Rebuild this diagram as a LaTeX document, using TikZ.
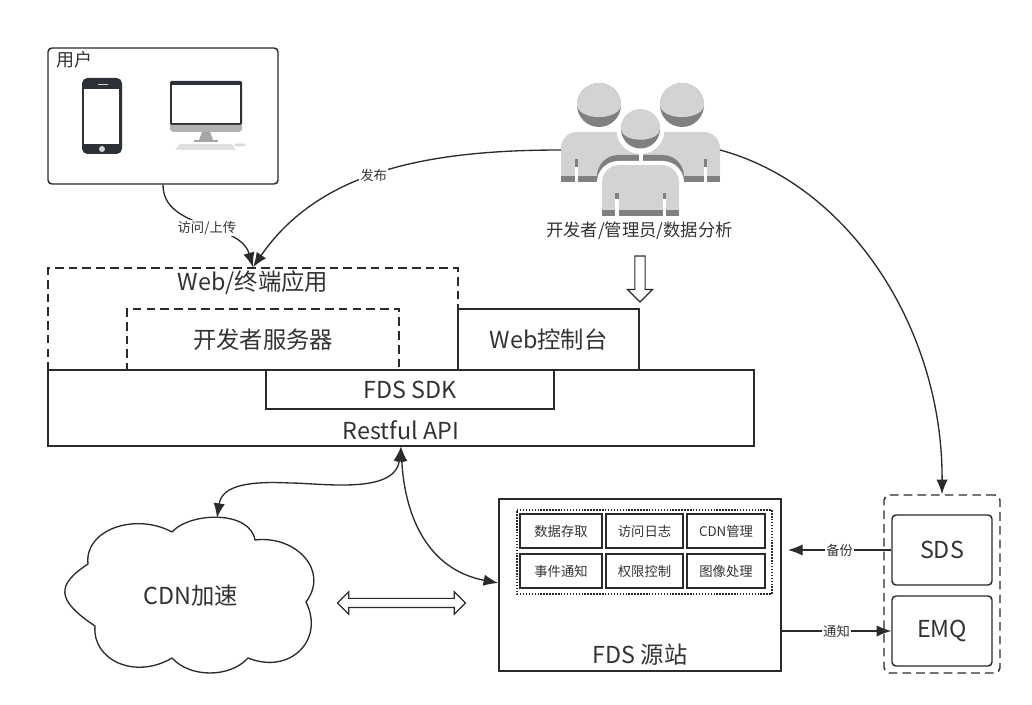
\documentclass[tikz,border=0pt]{standalone}
\usepackage{fontspec}
\setmainfont{Noto Sans CJK SC}
\usetikzlibrary{arrows.meta,shapes.arrows}
\definecolor{ink}{HTML}{2B2B2B}
\definecolor{txt}{HTML}{333333}
\definecolor{screen}{HTML}{2E3038}
\definecolor{pale}{HTML}{D2D4D3}
\definecolor{dimgrey}{HTML}{808080}
\newcommand{\bigfont}{\fontsize{17.5}{21}\selectfont}
\newcommand{\midfont}{\fontsize{13}{16}\selectfont}
\tikzset{
    box/.style 2 args={draw=ink, line width=1.1pt, fill=white, inner sep=0pt, text=txt,
        minimum width={#1*0.75pt}, minimum height={#2*0.75pt}},
    cell/.style={box={#1}{34}, font=\fontsize{10}{12}\selectfont},
    dashline/.style={dash pattern=on 6.5pt off 3.8pt},
    big/.style={text=txt, inner sep=0pt, font=\bigfont},
    tag/.style={text=txt, fill=white, inner sep=1pt, font=\fontsize{10}{12}\selectfont},
    flow/.style={draw=ink, line width=1pt, -{Latex[length=11pt,width=8.5pt]}},
    biflow/.style={draw=ink, line width=1pt, {Latex[length=11pt,width=8.5pt]}-{Latex[length=11pt,width=8.5pt]}},
    head/.pic={
        \fill[dimgrey] (0,0) circle[radius=#1];
        \fill[pale] (-#1,0) arc[start angle=180, end angle=360, radius=#1]
            arc[start angle=0, end angle=180, x radius=#1, y radius={#1*0.55}] -- cycle;
    },
}
\begin{document}
\begin{tikzpicture}[x=0.75pt, y=-0.75pt]
    \useasboundingbox (0,0) rectangle (1032,705);

    % user box
    \node[box={230}{136}, rounded corners=3pt] (user) at (163,116) {};
    \node[text=txt, inner sep=0pt, font=\fontsize{13.5}{16}\selectfont] (userlabel) at (74,60) {用户};

    % phone
    \fill[screen, rounded corners=4pt] (82,78) rectangle (122,154);
    \fill[white] (84,89) rectangle (119,144);
    \fill[pale] (102,149) circle[radius=3];
    \fill[pale] (98,84) rectangle (108,85);

    % desktop
    \fill[screen, rounded corners=1pt] (170,81) rectangle (242,125);
    \fill[white] (172,85) rectangle (240,123);
    \fill[black!30] (170,125) -- (242,125) -- (242,130) -- (239,132) -- (173,132) -- (170,130) -- cycle;
    \fill[black!35] (202,132) -- (210,132) -- (213,140) -- (199,140) -- cycle;
    \fill[black!35] (194,140) rectangle (218,142);
    \fill[black!12] (180,144) -- (232,144) -- (236,150) -- (175,150) -- cycle;
    \fill[black!15] (240,145) circle[x radius=6, y radius=1.5];

    % people
    \begin{scope}
        \fill[pale] (561,182) [rounded corners=12pt] -- (561,132) -- (650,132) [sharp corners] -- (650,182) -- cycle;
        \fill[pale] (720,182) [rounded corners=12pt] -- (720,132) -- (631,132) [sharp corners] -- (631,182) -- cycle;
        \fill[dimgrey] (561,176) rectangle (720,182);
        \fill[dimgrey] (597,182) [rounded corners=16pt] -- (597,155) -- (684,155) [sharp corners] -- (684,182) -- cycle;
        \fill[white] (597,220) [rounded corners=16pt] -- (597,161) -- (684,161) [sharp corners] -- (684,220) -- cycle;
        \fill[white] (638.5,150) rectangle (642.5,161);
        \fill[pale] (602,216) [rounded corners=13pt] -- (602,165) -- (679,165) [sharp corners] -- (679,216) -- cycle;
        \fill[dimgrey] (602,210) rectangle (679,216);
        \fill[dimgrey] (575,159) rectangle (578,167);
        \fill[white] (575,167) rectangle (578,182);
        \fill[dimgrey] (704,159) rectangle (707,167);
        \fill[white] (704,167) rectangle (707,182);
        \fill[dimgrey] (615,193) rectangle (619,199);
        \fill[white] (615,199) rectangle (619,216);
        \fill[dimgrey] (663,193) rectangle (666,199);
        \fill[white] (663,199) rectangle (666,216);
        \pic at (599,105) {head={22}};
        \pic at (682,105) {head={22}};
        \fill[white] (640.5,130) circle[radius=24];
        \pic at (640.5,129) {head={19.5}};
    \end{scope}
    \node[text=txt, inner sep=0pt, font=\midfont] (devlabel) at (639.5,231) {开发者/管理员/数据分析};
    \coordinate (devwest) at (561,150);
    \coordinate (deveast) at (720,150);

    % apps and api
    \node[box={410}{102}, dashline] (web) at (253,319) {};
    \node[big] (weblabel) at (253,283) {Web/终端应用};
    \node[box={272}{61}, dashline, font=\bigfont] (devserver) at (263,339.5) {开发者服务器};
    \node[box={181}{61}, font=\bigfont] (console) at (548.5,339.5) {Web控制台};
    \node[box={706}{76}] (api) at (401,408) {};
    \node[big] (apilabel) at (401,430) {Restful API};
    \node[box={288}{39}, font=\bigfont] (sdk) at (410,389.5) {FDS SDK};
    \node[draw=ink, line width=0.9pt, fill=white, shape=single arrow, shape border rotate=270,
        inner sep=3.4pt, minimum height=34.5pt, single arrow head extend=5.5pt] (down) at (640,276.5) {};

    % cloud
    \draw[draw=ink, line width=1pt, fill=white] (88,564) .. controls (84,530) and (135,512) .. (172,532)
        .. controls (190,512) and (250,510) .. (255,540)
        .. controls (295,535) and (330,570) .. (306,602)
        .. controls (325,640) and (290,675) .. (248,658)
        .. controls (230,678) and (190,678) .. (172,658)
        .. controls (135,680) and (92,660) .. (95,626)
        .. controls (56,600) and (56,585) .. (88,564) -- cycle;
    \coordinate (cloudtop) at (217,518);
    \node[big] (cdn) at (191,596) {CDN加速};
    \node[draw=ink, line width=0.9pt, fill=white, shape=double arrow, inner sep=3pt,
        minimum height=96pt, double arrow head extend=5pt] (both) at (401.5,603) {};

    % origin
    \node[box={282}{172}] (origin) at (640,585) {};
    \node[big] (originlabel) at (640,655) {FDS 源站};
    \node[draw=ink, line width=1.1pt, dash pattern=on 1.1pt off 1.1pt, inner sep=0pt, minimum width={255*0.75pt}, minimum height={84*0.75pt}] (features) at (644.5,552) {};
    \node[cell=82] (c1) at (561,531) {数据存取};
    \node[cell=77] (c2) at (644.5,531) {访问日志};
    \node[cell=78] (c3) at (726,531) {CDN管理};
    \node[cell=82] (c4) at (561,571) {事件通知};
    \node[cell=77] (c5) at (644.5,571) {权限控制};
    \node[cell=78] (c6) at (726,571) {图像处理};

    % storage
    \node[box={116}{178}, dashline, rounded corners=4pt] (store) at (942,584) {};
    \node[box={100}{70}, rounded corners=3pt, font=\bigfont] (sds) at (942,550) {SDS};
    \node[box={100}{70}, rounded corners=3pt, font=\bigfont] (emq) at (942,631) {EMQ};
    \coordinate (backup) at (788,550);

    % connectors
    \draw[flow] (user.south) .. controls (163,230) and (240,222) .. node[tag, pos=0.53] (visit) {访问/上传} (web.north);
    \draw[flow] (devwest) .. controls (430,150) and (320,170) .. node[tag, pos=0.53] (publish) {发布} (web.north);
    \draw[flow] (deveast) .. controls (850,185) and (943,330) .. (store.north);
    \draw[biflow] (api.south) .. controls (395,495) and (320,483) .. (290,483)
        .. controls (250,481) and (222,485) .. (cloudtop);
    \draw[biflow] (api.south) .. controls (405,520) and (430,570) .. (origin.west |- 0,583);
    \draw[flow] (sds.west) -- node[tag, pos=0.5] (copy) {备份} (backup);
    \draw[flow] (origin.east |- emq.west) -- node[tag, pos=0.5] (notify) {通知} (emq.west);
\end{tikzpicture}
\end{document}
